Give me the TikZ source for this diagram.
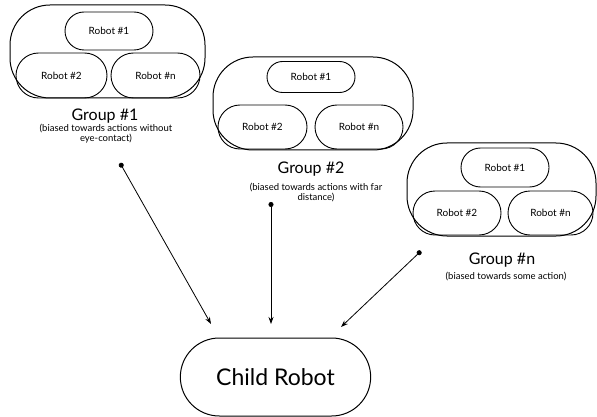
\documentclass[tikz,border=0pt]{standalone}
\usepackage{fontspec}
\setmainfont{Lato}
\usetikzlibrary{arrows.meta,shapes.misc}

\tikzset{
	grp/.style={draw, line width=1pt, rounded corners=40pt, inner sep=0pt},
	robot/.style={draw, rounded rectangle, line width=0.9pt, inner sep=0pt, font=\fontsize{10}{12}\selectfont},
	title/.style={anchor=base, font=\fontsize{16}{18}\selectfont},
	note/.style={anchor=north, align=center, inner sep=0pt, font=\fontsize{9.5}{10.5}\selectfont},
	conn/.style={line width=0.8pt, {Circle[length=5pt]}-{Stealth[length=7pt,width=5pt]}}
}

\begin{document}
\begin{tikzpicture}[x=1pt,y=-1pt]
	\useasboundingbox (0,0) rectangle (597,417);
	% group 1
	\node[grp, minimum width=195pt, minimum height=93pt] (g1) at (107.5,51.5) {};
	\node[robot, minimum width=88pt, minimum height=38pt] (g1r1) at (109,31) {Robot \#1};
	\node[robot, minimum width=91pt, minimum height=45pt] (g1r2) at (61.5,75.5) {Robot \#2};
	\node[robot, minimum width=89pt, minimum height=45pt] (g1rn) at (155.5,75.5) {Robot \#n};
	\node[title] (g1t) at (105,121) {Group \#1};
	\node[note] (g1s) at (106,123.5) {(biased towards actions without\\eye-contact)};
	% group 2
	\node[grp, minimum width=200pt, minimum height=93pt] (g2) at (313,103.5) {};
	\node[robot, minimum width=88pt, minimum height=31pt] (g2r1) at (311,77) {Robot \#1};
	\node[robot, minimum width=89pt, minimum height=44pt] (g2r2) at (262.5,127) {Robot \#2};
	\node[robot, minimum width=88pt, minimum height=44pt] (g2rn) at (359,127) {Robot \#n};
	\node[title] (g2t) at (311,174) {Group \#2};
	\node[note] (g2s) at (316,182.5) {(biased towards actions with far\\distance)};
	% group n
	\node[grp, minimum width=189pt, minimum height=93pt] (gn) at (501.5,189.5) {};
	\node[robot, minimum width=88pt, minimum height=39pt] (gnr1) at (505,167.5) {Robot \#1};
	\node[robot, minimum width=88pt, minimum height=44pt] (gnr2) at (457,213) {Robot \#2};
	\node[robot, minimum width=85pt, minimum height=44pt] (gnrn) at (550.5,213) {Robot \#n};
	\node[title] (gnt) at (502,264) {Group \#n};
	\node[note] (gns) at (506,271.5) {(biased towards some action)};
	% child
	\node[draw, rounded rectangle, line width=1pt, minimum width=197pt, minimum height=78pt,
		font=\fontsize{23}{26}\selectfont] (child) at (275.5,377) {Child Robot};
	\coordinate (d1) at (120,163);
	\coordinate (d2) at (271,202);
	\coordinate (dn) at (421,251);
	\coordinate (e1) at (211,324);
	\coordinate (e2) at (271,324);
	\coordinate (en) at (341,327);
	\draw[conn] (d1) -- (e1);
	\draw[conn] (d2) -- (e2);
	\draw[conn] (dn) -- (en);
\end{tikzpicture}
\end{document}
